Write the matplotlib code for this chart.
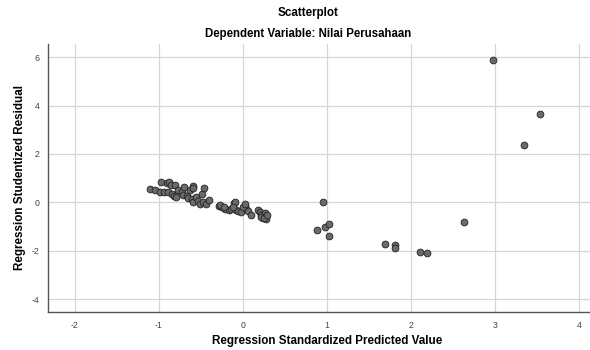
import matplotlib
matplotlib.use("Agg")
import matplotlib.pyplot as plt

plt.rcParams['font.family'] = ['Liberation Sans', 'DejaVu Sans']

title = "Scatterplot"
subtitle = "Dependent Variable: Nilai Perusahaan"
xlabel = "Regression Standardized Predicted Value"
ylabel = "Regression Studentized Residual"

x_ticks = [-2, -1, 0, 1, 2, 3, 4]
y_ticks = [-4, -2, 0, 2, 4, 6]

pred = [-1.11, -1.05, -0.99, -0.97, -0.94, -0.90, -0.88, -0.86, -0.89, -0.85,
        -0.81, -0.82, -0.80, -0.77, -0.73, -0.70, -0.71, -0.67, -0.63, -0.60,
        -0.59, -0.65, -0.61, -0.59, -0.56, -0.53, -0.49, -0.46, -0.51, -0.47,
        -0.44, -0.41, -0.29, -0.25, -0.21, -0.17, -0.11, -0.14, -0.08, -0.06,
        -0.02, 0.02, 0.04, 0.06, 0.10, 0.18, 0.20, 0.22, 0.26, 0.28,
        0.24, 0.28, 0.21, -0.27, -0.23, -0.10, -0.12, 0.00, 0.02, 0.25,
        0.29, 0.95, 0.88, 0.98, 1.03, 1.03, 1.69, 1.81, 1.81, 2.11,
        2.19, 2.63, 2.98, 3.35, 3.54]
resid = [0.55, 0.50, 0.43, 0.84, 0.41, 0.78, 0.86, 0.71, 0.41, 0.34,
         0.72, 0.27, 0.23, 0.50, 0.41, 0.64, 0.30, 0.27, 0.50, 0.68,
         0.61, 0.17, 0.13, 0.00, 0.20, 0.06, 0.34, 0.59, -0.05, 0.00,
         -0.05, 0.09, -0.14, -0.21, -0.28, -0.32, -0.02, -0.28, -0.32, -0.35,
         -0.42, -0.14, -0.28, -0.35, -0.52, -0.32, -0.42, -0.52, -0.46, -0.60,
         -0.65, -0.70, -0.60, -0.10, -0.21, 0.02, -0.21, -0.21, -0.08, -0.63,
         -0.52, 0.03, -1.14, -1.02, -0.90, -1.40, -1.73, -1.77, -1.88, -2.05,
         -2.09, -0.82, 5.89, 2.38, 3.64]

fig = plt.figure(figsize=(5.9, 3.5), dpi=100)
ax = fig.add_axes([0.0808, 0.1077, 0.919, 0.7666])

ax.scatter(pred, resid, s=24, facecolor='#6a6a6a', edgecolor='#222222',
           linewidths=0.6, zorder=3)

ax.set_xlim(-2.325, 4.13)
ax.set_ylim(-4.55, 6.55)
ax.set_xticks(x_ticks)
ax.set_yticks(y_ticks)
ax.set_xticklabels([str(v) for v in x_ticks])
ax.set_yticklabels([str(v) for v in y_ticks])
ax.grid(True, color='#d6d6d6', linewidth=0.9, zorder=0)
ax.set_axisbelow(True)
for s in ['top', 'right']:
    ax.spines[s].set_visible(False)
for s in ['left', 'bottom']:
    ax.spines[s].set_color('#555555')
    ax.spines[s].set_linewidth(1.0)
ax.tick_params(axis='both', length=0, labelsize=6.3, colors='#444444', pad=6)

fig.text(308/590, 1 - 13/350, title, ha='center', va='center', fontsize=8.4, fontweight='bold')
fig.text(308/590, 1 - 34/350, subtitle, ha='center', va='center', fontsize=8.3, fontweight='bold')
fig.text(327/590, 1 - 341/350, xlabel, ha='center', va='center', fontsize=8.4, fontweight='bold')
fig.text(20/590, 1 - 177/350, ylabel, ha='center', va='center', rotation=90, fontsize=8.4, fontweight='bold')

fig.savefig("out.png", dpi=100, facecolor='white')
